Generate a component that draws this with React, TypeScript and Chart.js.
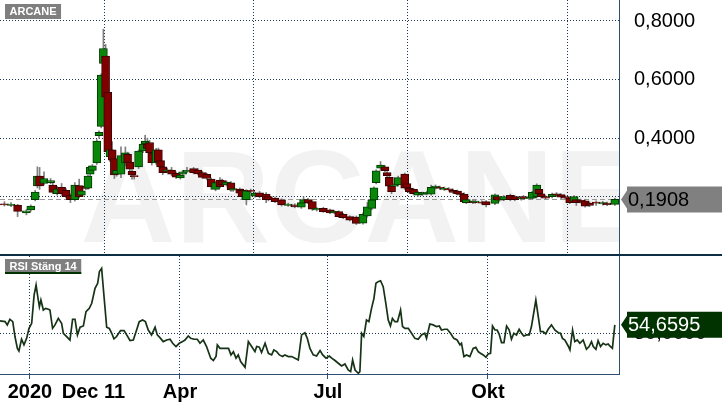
import React, { useEffect, useRef } from 'react';
import { Chart, registerables } from 'chart.js';

Chart.register(...registerables);

const TITLE = 'ARCANE';
const RSI_TITLE = 'RSI Stäng 14';

// trading-day index of each candle
const CANDLE_T = [
  2, 5, 8, 12, 14, 16, 17, 18, 20, 23,
  24, 26, 28, 30, 32, 34, 36, 37, 39, 40,
  41, 42, 44, 45, 46, 47, 48, 49, 50, 51,
  52, 53, 55, 57, 58, 59, 60, 61, 63, 65,
  66, 67, 68, 69, 71, 72, 73, 74, 76, 78,
  80, 82, 83, 85, 88, 90, 92, 94, 96, 98,
  100, 101, 103, 105, 106, 109, 110, 112, 114, 116,
  118, 121, 122, 125, 128, 131, 134, 137, 138, 140,
  142, 144, 147, 150, 152, 154, 156, 159, 162, 165,
  167, 169, 170, 171, 173, 175, 176, 177, 178, 179,
  181, 184, 185, 186, 188, 190, 192, 194, 196, 198,
  200, 202, 204, 206, 208, 209, 211, 212, 215, 216,
  219, 221, 225, 226, 227, 229, 232, 234, 237, 238,
  241, 242, 244, 245, 246, 248, 251, 253, 255, 257,
  259, 261, 262, 264, 266, 268, 271, 274, 276, 279.5,
];
const OPEN = [
  0.176, 0.170, 0.171, 0.145, 0.155, 0.190, 0.237, 0.270, 0.245, 0.248,
  0.240, 0.210, 0.232, 0.222, 0.205, 0.190, 0.238, 0.205, 0.235, 0.229,
  0.277, 0.290, 0.315, 0.408, 0.440, 0.655, 0.680, 0.556, 0.336, 0.360,
  0.330, 0.277, 0.277, 0.315, 0.345, 0.318, 0.287, 0.272, 0.302, 0.356,
  0.380, 0.380, 0.385, 0.350, 0.315, 0.360, 0.323, 0.302, 0.286, 0.291,
  0.280, 0.264, 0.277, 0.285, 0.296, 0.291, 0.282, 0.276, 0.260, 0.225,
  0.257, 0.255, 0.240, 0.247, 0.222, 0.226, 0.222, 0.190, 0.222, 0.202,
  0.213, 0.209, 0.200, 0.195, 0.189, 0.170, 0.172, 0.164, 0.178, 0.190,
  0.183, 0.155, 0.160, 0.155, 0.145, 0.149, 0.140, 0.132, 0.130, 0.110,
  0.134, 0.160, 0.189, 0.248, 0.297, 0.302, 0.282, 0.266, 0.236, 0.236,
  0.240, 0.277, 0.245, 0.229, 0.225, 0.205, 0.208, 0.210, 0.209, 0.230,
  0.232, 0.225, 0.227, 0.222, 0.219, 0.212, 0.209, 0.180, 0.185, 0.181,
  0.182, 0.183, 0.177, 0.200, 0.192, 0.190, 0.205, 0.200, 0.192, 0.200,
  0.194, 0.195, 0.200, 0.225, 0.210, 0.200, 0.200, 0.210, 0.207, 0.200,
  0.195, 0.185, 0.190, 0.188, 0.186, 0.178, 0.182, 0.175, 0.178, 0.174,
];
const HIGH = [
  0.183, 0.180, 0.174, 0.156, 0.172, 0.222, 0.302, 0.300, 0.285, 0.262,
  0.246, 0.235, 0.245, 0.228, 0.210, 0.248, 0.260, 0.225, 0.240, 0.275,
  0.305, 0.310, 0.395, 0.425, 0.620, 0.772, 0.720, 0.570, 0.365, 0.388,
  0.338, 0.296, 0.370, 0.370, 0.352, 0.325, 0.292, 0.280, 0.360, 0.385,
  0.410, 0.400, 0.392, 0.355, 0.365, 0.366, 0.330, 0.310, 0.298, 0.300,
  0.285, 0.278, 0.290, 0.300, 0.300, 0.296, 0.286, 0.280, 0.264, 0.252,
  0.265, 0.260, 0.254, 0.252, 0.232, 0.230, 0.226, 0.224, 0.226, 0.215,
  0.218, 0.214, 0.204, 0.199, 0.193, 0.178, 0.176, 0.184, 0.200, 0.194,
  0.187, 0.163, 0.164, 0.158, 0.153, 0.152, 0.143, 0.135, 0.134, 0.145,
  0.180, 0.193, 0.234, 0.292, 0.320, 0.306, 0.286, 0.270, 0.240, 0.244,
  0.270, 0.281, 0.249, 0.233, 0.229, 0.219, 0.216, 0.219, 0.240, 0.240,
  0.236, 0.233, 0.231, 0.226, 0.223, 0.216, 0.213, 0.194, 0.189, 0.189,
  0.186, 0.187, 0.210, 0.204, 0.196, 0.204, 0.209, 0.204, 0.200, 0.204,
  0.202, 0.219, 0.244, 0.229, 0.214, 0.204, 0.212, 0.214, 0.211, 0.204,
  0.199, 0.204, 0.194, 0.192, 0.190, 0.182, 0.186, 0.184, 0.182, 0.195,
];
const LOW = [
  0.168, 0.166, 0.132, 0.138, 0.150, 0.186, 0.230, 0.225, 0.240, 0.244,
  0.210, 0.205, 0.205, 0.196, 0.180, 0.185, 0.196, 0.200, 0.224, 0.225,
  0.272, 0.285, 0.310, 0.400, 0.435, 0.640, 0.530, 0.345, 0.320, 0.318,
  0.262, 0.270, 0.265, 0.305, 0.310, 0.285, 0.260, 0.260, 0.296, 0.350,
  0.375, 0.360, 0.345, 0.308, 0.310, 0.315, 0.298, 0.275, 0.282, 0.272,
  0.262, 0.260, 0.274, 0.282, 0.278, 0.274, 0.262, 0.258, 0.225, 0.220,
  0.230, 0.236, 0.236, 0.218, 0.218, 0.208, 0.190, 0.172, 0.214, 0.198,
  0.196, 0.180, 0.186, 0.180, 0.168, 0.167, 0.162, 0.160, 0.175, 0.176,
  0.153, 0.151, 0.146, 0.142, 0.142, 0.129, 0.125, 0.117, 0.105, 0.106,
  0.130, 0.155, 0.185, 0.244, 0.290, 0.285, 0.268, 0.230, 0.210, 0.232,
  0.236, 0.225, 0.226, 0.213, 0.206, 0.201, 0.204, 0.206, 0.205, 0.226,
  0.224, 0.221, 0.219, 0.211, 0.206, 0.204, 0.179, 0.176, 0.176, 0.177,
  0.174, 0.165, 0.173, 0.186, 0.184, 0.186, 0.186, 0.186, 0.188, 0.190,
  0.190, 0.191, 0.196, 0.206, 0.196, 0.191, 0.196, 0.201, 0.194, 0.191,
  0.176, 0.181, 0.170, 0.178, 0.164, 0.166, 0.170, 0.171, 0.169, 0.170,
];
const CLOSE = [
  0.172, 0.175, 0.150, 0.152, 0.168, 0.216, 0.270, 0.237, 0.262, 0.255,
  0.215, 0.226, 0.210, 0.200, 0.190, 0.240, 0.200, 0.220, 0.228, 0.270,
  0.300, 0.305, 0.390, 0.420, 0.615, 0.706, 0.540, 0.354, 0.360, 0.325,
  0.274, 0.290, 0.340, 0.350, 0.317, 0.294, 0.274, 0.268, 0.356, 0.380,
  0.390, 0.365, 0.350, 0.316, 0.360, 0.320, 0.302, 0.282, 0.292, 0.277,
  0.267, 0.274, 0.285, 0.290, 0.282, 0.278, 0.266, 0.262, 0.233, 0.248,
  0.234, 0.240, 0.250, 0.223, 0.228, 0.212, 0.200, 0.220, 0.218, 0.212,
  0.200, 0.190, 0.190, 0.183, 0.172, 0.175, 0.165, 0.180, 0.190, 0.180,
  0.157, 0.160, 0.149, 0.145, 0.150, 0.132, 0.128, 0.120, 0.109, 0.140,
  0.165, 0.189, 0.230, 0.288, 0.308, 0.289, 0.272, 0.236, 0.217, 0.240,
  0.265, 0.229, 0.230, 0.217, 0.210, 0.215, 0.212, 0.215, 0.232, 0.236,
  0.228, 0.229, 0.223, 0.215, 0.210, 0.208, 0.183, 0.190, 0.180, 0.185,
  0.178, 0.172, 0.206, 0.190, 0.188, 0.200, 0.190, 0.190, 0.196, 0.194,
  0.198, 0.215, 0.240, 0.210, 0.200, 0.195, 0.208, 0.205, 0.198, 0.195,
  0.180, 0.200, 0.180, 0.182, 0.168, 0.170, 0.178, 0.180, 0.173, 0.1908,
];

const RSI_T = [
  0, 2.3, 3.3, 4.5, 5.8, 6.8, 7.9, 8.6, 9.8, 10.9,
  12.1, 13.2, 14.4, 15.5, 16.4, 17.4, 17.9, 18.6, 19.7, 20.8,
  22.0, 22.7, 23.9, 25.0, 26.5, 28.0, 28.8, 30.3, 31.8, 33.0,
  34.1, 35.2, 36.4, 37.9, 39.1, 40.6, 41.7, 43.2, 44.4, 45.2,
  46.2, 47.3, 48.5, 49.7, 50.8, 51.8, 53.0, 54.8, 56.4, 57.6,
  59.1, 60.6, 62.1, 63.3, 64.8, 66.1, 67.4, 68.9, 70.5, 71.5,
  73.0, 74.2, 75.8, 77.3, 78.5, 80.0, 81.5, 83.0, 84.1, 85.6,
  86.7, 88.2, 89.7, 90.9, 92.4, 93.9, 95.8, 97.0, 98.2, 98.8,
  100.0, 101.5, 103.9, 105.0, 106.1, 107.3, 108.3, 109.4, 111.4, 112.9,
  114.4, 115.9, 116.7, 117.9, 118.9, 120.5, 122.0, 123.5, 124.5, 125.8,
  127.0, 128.5, 129.5, 131.1, 132.6, 134.1, 135.6, 137.1, 138.6, 139.7,
  140.9, 142.4, 143.9, 145.5, 146.7, 148.2, 149.7, 150.8, 152.3, 153.8,
  155.3, 156.8, 158.3, 159.4, 160.3, 161.4, 162.9,
  163.6, 164.4, 165.4, 166.6, 167.7, 168.9, 170.0, 170.9, 171.9, 173.0,
  174.2, 175.4, 176.5, 177.5, 178.4, 179.5, 180.7, 182.1, 183.0, 184.1,
  185.6, 187.1, 188.6, 190.1, 191.6, 193.1, 193.9, 195.4, 196.9, 198.4,
  199.7, 200.7, 202.2, 203.3, 204.8, 206.3, 207.8, 209.1, 209.8, 210.9,
  212.1, 213.6, 215.1, 216.3, 217.4, 218.4, 219.7, 220.9, 221.9, 223.0,
  223.9, 225.0, 226.0, 226.9, 228.0, 229.1, 230.3, 231.5, 232.5, 233.6,
  234.8, 236.0, 237.1, 238.1, 239.4, 240.6, 241.6, 242.4, 243.6, 244.7,
  245.7, 246.9, 248.1, 249.2, 250.7, 252.2, 253.8, 254.8, 255.7, 256.8,
  258.3, 259.1, 260.3, 261.3, 262.4, 263.6, 265.1, 266.6, 267.8, 268.9,
  269.7, 270.9, 271.9, 273.0, 274.2, 275.4, 276.5, 277.2, 278.4, 279.5,
];
const RSI_V = [
  56.8, 56.4, 54.6, 57.7, 56.4, 48.2, 41.7, 40.3, 46.7, 43.6,
  47.2, 52.7, 55.5, 71.0, 76.5, 68.3, 64.6, 68.3, 62.8, 63.7,
  63.2, 62.8, 52.7, 54.6, 58.2, 55.5, 50.0, 48.2, 46.3, 57.7,
  57.7, 49.1, 53.3, 54.0, 61.9, 63.7, 66.5, 74.7, 77.5, 83.9,
  85.7, 70.1, 53.3, 52.7, 50.0, 46.9, 48.2, 51.5, 51.5, 49.1,
  46.0, 46.3, 51.8, 56.4, 57.3, 56.4, 51.8, 49.1, 53.3, 49.1,
  47.2, 45.4, 46.3, 46.7, 44.5, 42.7, 44.5, 45.4, 46.3, 48.5,
  47.2, 46.7, 46.7, 44.5, 46.3, 42.7, 36.3, 35.0, 37.2, 43.6,
  41.7, 41.7, 41.7, 38.1, 39.9, 36.3, 38.1, 34.4, 31.3, 45.4,
  42.7, 39.9, 42.7, 42.3, 39.4, 44.5, 39.0, 38.1, 40.8, 39.9,
  38.1, 37.2, 38.1, 37.2, 37.2, 36.3, 35.3, 49.1, 50.3, 47.2,
  41.7, 38.1, 37.5, 40.5, 38.1, 36.3, 37.5, 36.3, 35.0, 33.5,
  32.0, 33.1, 29.8, 28.9, 35.3, 29.8, 28.0,
  28.9, 50.0, 48.2, 57.3, 56.4, 63.7, 69.2, 77.5, 78.4, 78.9,
  75.6, 66.5, 57.3, 54.0, 58.2, 56.4, 56.4, 62.8, 53.7, 52.7,
  52.7, 50.0, 47.2, 46.7, 49.1, 50.0, 47.2, 55.1, 54.6, 53.7,
  54.0, 51.8, 52.2, 52.2, 50.0, 47.2, 46.3, 43.6, 44.5, 37.2,
  38.1, 37.2, 41.7, 42.3, 39.9, 39.0, 38.1, 36.8, 38.6, 39.0,
  54.0, 51.8, 51.8, 49.6, 44.9, 44.9, 54.0, 51.8, 46.7, 50.0,
  49.1, 52.2, 50.0, 48.5, 49.1, 49.1, 53.7, 59.5, 68.3, 59.1,
  50.9, 50.9, 49.6, 52.2, 54.6, 51.8, 50.3, 50.0, 47.2, 46.3,
  43.0, 40.8, 51.8, 45.4, 46.3, 44.5, 46.3, 41.2, 42.7, 45.4,
  42.7, 41.2, 45.9, 42.7, 44.5, 43.6, 44.1, 43.0, 41.7, 54.6595,
];

const X_MIN = 0;
const X_MAX = 281.4;
const X_TICK_T = [13.6, 42.5, 81.8, 149.1, 221.8];
const X_TICK_LABELS = ['2020', 'Dec 11', 'Apr', 'Jul', 'Okt'];
const X_TICK_GRID = [true, false, true, true, true];
const PRICE_MIN = 0.0043;
const PRICE_MAX = 0.8717;
const PRICE_TICKS = [0.2, 0.4, 0.6, 0.8];
const RSI_MIN = 27.6;
const RSI_MAX = 92.5;
const RSI_TICKS = [50];

const FONT = '"Liberation Sans", Arial, Helvetica, sans-serif';
const GRID = '#1c3550';
const AXIS = '#2f4f70';
const UP_FILL = '#0a870a';
const UP_LINE = '#003a00';
const DOWN_FILL = '#800000';
const DOWN_LINE = '#3a0000';
const WICK = '#7f7f7f';
const RSI_LINE = '#163316';
const AXIS_W = 103;

const fmt = (v: number) => v.toFixed(4).replace('.', ',');

const noPad = (s: any) => {
  s.paddingTop = 0;
  s.paddingBottom = 0;
  s.paddingLeft = 0;
  s.paddingRight = 0;
};

function drawBadge(ctx: CanvasRenderingContext2D, tipX: number, yc: number, right: number, text: string, bg: string, fg: string) {
  const h = 13;
  const a = 9;
  const bx = tipX + 6;
  ctx.save();
  ctx.fillStyle = bg;
  ctx.beginPath();
  ctx.moveTo(tipX, yc);
  ctx.lineTo(bx, yc - a);
  ctx.lineTo(bx, yc - h);
  ctx.lineTo(right, yc - h);
  ctx.lineTo(right, yc + h);
  ctx.lineTo(bx, yc + h);
  ctx.lineTo(bx, yc + a);
  ctx.closePath();
  ctx.fill();
  ctx.fillStyle = fg;
  ctx.font = `20px ${FONT}`;
  ctx.textAlign = 'left';
  ctx.textBaseline = 'middle';
  ctx.fillText(text, tipX + 7, yc + 1);
  ctx.restore();
}

function drawTag(ctx: CanvasRenderingContext2D, x: number, y: number, text: string, underline?: string) {
  ctx.save();
  ctx.font = `bold 11px ${FONT}`;
  const w = ctx.measureText(text).width + 9;
  ctx.fillStyle = '#7f7f7f';
  ctx.fillRect(x, y, w, 15);
  if (underline) {
    ctx.fillStyle = underline;
    ctx.fillRect(x, y + 13, w, 2);
  }
  ctx.fillStyle = '#ffffff';
  ctx.textAlign = 'left';
  ctx.textBaseline = 'middle';
  ctx.fillText(text, x + 4.5, y + 7.5);
  ctx.restore();
}

export default function App() {
  const topRef = useRef<HTMLCanvasElement>(null);
  const botRef = useRef<HTMLCanvasElement>(null);

  useEffect(() => {
    if (!topRef.current || !botRef.current) return;
    const last = CLOSE.length - 1;

    const pricePlugin = {
      id: 'priceDecor',
      beforeDraw(chart: any) {
        const { ctx, chartArea } = chart;
        ctx.save();
        ctx.beginPath();
        ctx.rect(chartArea.left, chartArea.top, chartArea.right - chartArea.left, chartArea.bottom - chartArea.top);
        ctx.clip();
        ctx.fillStyle = '#f2f2f2';
        ctx.font = `bold 131px ${FONT}`;
        ctx.textAlign = 'center';
        ctx.textBaseline = 'alphabetic';
        ctx.fillText(TITLE, chart.width / 2, chartArea.bottom - 12);
        ctx.restore();
      },
      beforeDatasetsDraw(chart: any) {
        const { ctx, chartArea, scales } = chart;
        const y = Math.round(scales.y.getPixelForValue(CLOSE[last])) + 0.5;
        ctx.save();
        ctx.strokeStyle = '#9a9a9a';
        ctx.lineWidth = 1;
        ctx.setLineDash([5, 3]);
        ctx.beginPath();
        ctx.moveTo(chartArea.left, y);
        ctx.lineTo(chartArea.right, y);
        ctx.stroke();
        ctx.restore();
      },
      afterDraw(chart: any) {
        const { ctx, chartArea, scales } = chart;
        const y = scales.y.getPixelForValue(CLOSE[last]);
        drawBadge(ctx, chartArea.right + 2, y, chart.width, fmt(CLOSE[last]), '#808080', '#000000');
        drawTag(ctx, 5, 4, TITLE);
      },
    };

    const rsiPlugin = {
      id: 'rsiDecor',
      afterDraw(chart: any) {
        const { ctx, chartArea, scales } = chart;
        const v = RSI_V[RSI_V.length - 1];
        const y = scales.y.getPixelForValue(v);
        drawBadge(ctx, chartArea.right + 2, y, chart.width, fmt(v), '#003300', '#ffffff');
        drawTag(ctx, 5, 3, RSI_TITLE, '#003300');
      },
    };

    const top = new Chart(topRef.current, {
      type: 'bar',
      data: {
        datasets: [
          {
            data: CANDLE_T.map((t, i) => ({ x: t, y: [OPEN[i], CLOSE[i]] })) as any,
            backgroundColor: (c: any) => (CLOSE[c.dataIndex] >= OPEN[c.dataIndex] ? UP_FILL : DOWN_FILL),
            borderColor: (c: any) => (CLOSE[c.dataIndex] >= OPEN[c.dataIndex] ? UP_LINE : DOWN_LINE),
            borderWidth: 1,
            borderSkipped: false,
            barThickness: 8,
            grouped: false,
            order: 1,
          } as any,
          {
            data: CANDLE_T.map((t, i) => ({ x: t, y: [LOW[i], HIGH[i]] })) as any,
            backgroundColor: WICK,
            borderWidth: 0,
            barThickness: 1,
            grouped: false,
            order: 2,
          } as any,
        ],
      },
      options: {
        responsive: false,
        animation: false,
        devicePixelRatio: 1,
        layout: { padding: 0 },
        plugins: { legend: { display: false }, tooltip: { enabled: false } },
        scales: {
          x: {
            type: 'linear',
            min: X_MIN,
            max: X_MAX,
            offset: false,
            afterBuildTicks: (s: any) => {
              s.ticks = X_TICK_T.filter((_, i) => X_TICK_GRID[i]).map((v) => ({ value: v }));
            },
            afterFit: (s: any) => {
              s.height = 0;
              noPad(s);
            },
            ticks: { display: false },
            grid: { color: GRID, lineWidth: 1, drawTicks: false },
            border: { display: false, dash: [1, 2] },
          },
          y: {
            position: 'right',
            min: PRICE_MIN,
            max: PRICE_MAX,
            afterBuildTicks: (s: any) => {
              s.ticks = PRICE_TICKS.map((v) => ({ value: v }));
            },
            afterFit: (s: any) => {
              s.width = AXIS_W;
              noPad(s);
            },
            ticks: {
              padding: 15,
              color: '#000000',
              font: { family: FONT, size: 20 },
              callback: (v: any) => fmt(Number(v)),
            },
            grid: { color: GRID, lineWidth: 1, drawTicks: false },
            border: { display: true, color: AXIS, width: 1, dash: [1, 2] },
          },
        },
      } as any,
      plugins: [pricePlugin],
    });

    const bot = new Chart(botRef.current, {
      type: 'line',
      data: {
        datasets: [
          {
            data: RSI_T.map((t, i) => ({ x: t, y: RSI_V[i] })),
            borderColor: RSI_LINE,
            borderWidth: 1.7,
            pointRadius: 0,
            tension: 0,
            fill: false,
          },
        ],
      },
      options: {
        responsive: false,
        animation: false,
        devicePixelRatio: 1,
        layout: { padding: 0 },
        plugins: { legend: { display: false }, tooltip: { enabled: false } },
        scales: {
          x: {
            type: 'linear',
            min: X_MIN,
            max: X_MAX,
            offset: false,
            afterBuildTicks: (s: any) => {
              s.ticks = X_TICK_T.map((v) => ({ value: v }));
            },
            afterFit: (s: any) => {
              s.height = 36;
              noPad(s);
            },
            ticks: {
              autoSkip: false,
              maxRotation: 0,
              minRotation: 0,
              padding: 1,
              color: '#000000',
              font: { family: FONT, size: 20, weight: 'bold' },
              callback: (_v: any, i: number) => X_TICK_LABELS[i],
            },
            grid: {
              color: (c: any) => (X_TICK_GRID[c.index] ? GRID : 'rgba(0,0,0,0)'),
              tickColor: (c: any) => (X_TICK_GRID[c.index] ? AXIS : 'rgba(0,0,0,0)'),
              lineWidth: 1,
              drawTicks: true,
              tickLength: 5,
              tickBorderDash: [],
            },
            border: { display: true, color: AXIS, width: 1, dash: [1, 2] },
          },
          y: {
            position: 'right',
            min: RSI_MIN,
            max: RSI_MAX,
            afterBuildTicks: (s: any) => {
              s.ticks = RSI_TICKS.map((v) => ({ value: v }));
            },
            afterFit: (s: any) => {
              s.width = AXIS_W;
              noPad(s);
            },
            ticks: {
              padding: 15,
              color: '#000000',
              font: { family: FONT, size: 20 },
              callback: (v: any) => fmt(Number(v)),
            },
            grid: { color: GRID, lineWidth: 1, drawTicks: false },
            border: { display: true, color: AXIS, width: 1, dash: [1, 2] },
          },
        },
      } as any,
      plugins: [rsiPlugin],
    });

    return () => {
      top.destroy();
      bot.destroy();
    };
  }, []);

  return (
    <div style={{ position: 'absolute', left: 0, top: 0, width: 722, height: 410, background: '#ffffff', overflow: 'hidden' }}>
      <canvas ref={topRef} width={722} height={254} style={{ position: 'absolute', left: 0, top: 0, width: 722, height: 254 }} />
      <div style={{ position: 'absolute', left: 0, top: 254, width: 722, height: 2, background: '#0d2f45' }} />
      <canvas ref={botRef} width={722} height={154} style={{ position: 'absolute', left: 0, top: 256, width: 722, height: 154 }} />
    </div>
  );
}
